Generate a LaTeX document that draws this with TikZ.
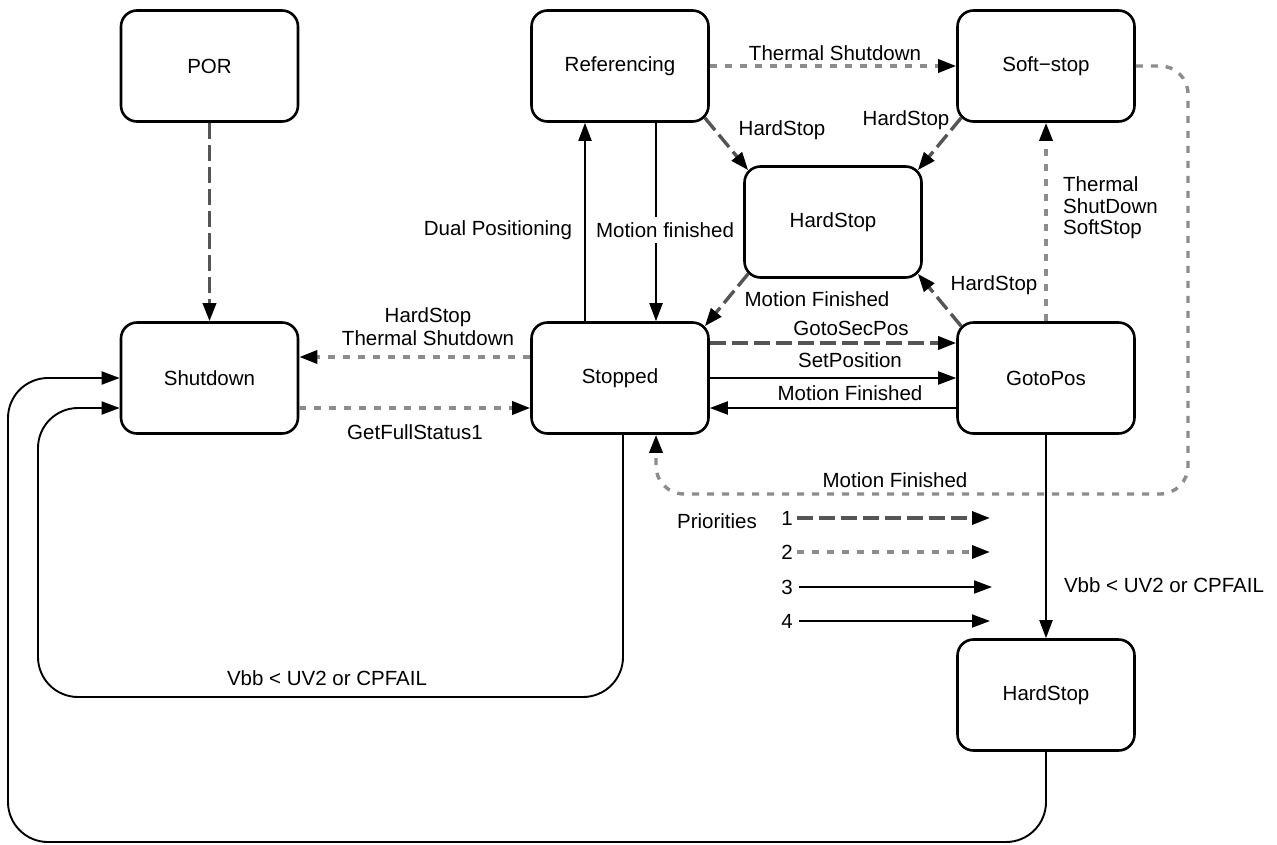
\documentclass[tikz,border=0pt]{standalone}
\usepackage{fontspec}
\setmainfont{Liberation Sans}
\usetikzlibrary{arrows.meta,calc}
\definecolor{ponec}{HTML}{555555}
\definecolor{ptwoc}{HTML}{8C8C8C}
\begin{document}
\begin{tikzpicture}[x=1pt,y=-1pt,
  font=\fontsize{20.5}{22}\selectfont,
  state/.style={draw, line width=2.6pt, rounded corners=16pt, minimum width=177pt, minimum height=111pt, inner sep=0pt},
  tipk/.style={-{Triangle[length=18pt,width=13pt,color=black]}},
  pone/.style={line width=3.4pt, color=ponec, dash pattern=on 16pt off 6pt, tipk},
  ptwo/.style={line width=3.4pt, color=ptwoc, dash pattern=on 7pt off 8pt, tipk},
  pthree/.style={line width=1.9pt, black, tipk},
  lab/.style={inner sep=1pt}]
\useasboundingbox (0,0) rectangle (1277,844);

% states
\node[state] (por)  at (209.5,66) {POR};
\node[state] (ref)  at (620,66) {Referencing};
\node[state] (soft) at (1046,66) {Soft−stop};
\node[state] (hsm)  at (833,222) {HardStop};
\node[state] (shut) at (209.5,378) {Shutdown};
\node[state] (stop) at (620,378) {Stopped};
\node[state] (goto) at (1046,378) {GotoPos};
\node[state] (hsb)  at (1046,695) {HardStop};

% priority 1 (dashed)
\draw[pone] (por) -- (shut);
\draw[pone] ($(ref.south east)+(-5,-5)$) -- ($(hsm.north west)+(5,5)$);
\draw[pone] ($(soft.south west)+(5,-5)$) -- ($(hsm.north east)+(-5,5)$);
\draw[pone] ($(hsm.south west)+(5,-5)$) -- ($(stop.north east)+(-5,5)$);
\draw[pone] ($(goto.north west)+(5,5)$) -- ($(hsm.south east)+(-5,-5)$);
\draw[pone] ($(stop.east)+(0,-35)$) -- ($(goto.west)+(0,-35)$);

% priority 2 (dotted)
\draw[ptwo] (ref) -- (soft);
\draw[ptwo, rounded corners=28pt] (soft.east) -- (1188,66) -- (1188,494) -- (656,494) -- ($(stop.south)+(36,0)$);
\draw[ptwo] (goto) -- (soft);
\draw[ptwo] ($(stop.west)+(0,-21)$) -- ($(shut.east)+(0,-21)$);
\draw[ptwo] ($(shut.east)+(0,30)$) -- ($(stop.west)+(0,30)$);

% priority 3/4 (solid)
\draw[pthree] (stop) -- (goto);
\draw[pthree] ($(goto.west)+(0,30)$) -- ($(stop.east)+(0,30)$);
\draw[pthree] ($(stop.north)+(-35,0)$) -- ($(ref.south)+(-35,0)$);
\draw[pthree] ($(ref.south)+(36,0)$) -- ($(stop.north)+(36,0)$);
\draw[pthree] (goto) -- (hsb);
\draw[pthree, rounded corners=40pt] ($(stop.south)+(3,0)$) -- (623,697) -- (38,697) -- (38,408) -- ($(shut.west)+(0,30)$);
\draw[pthree, rounded corners=40pt] (hsb.south) -- (1046,842) -- (8,842) -- (8,378) -- (shut.west);

% labels
\node[lab] (lbA) at (835,53) {Thermal Shutdown};
\node[lab] (lbB) at (782,130) {HardStop};
\node[lab] (lbC) at (906,120) {HardStop};
\node[lab] (lbD) at (817,299) {Motion Finished};
\node[lab] (lbE) at (994,285) {HardStop};
\node[lab, anchor=west, align=left, font=\fontsize{20.5}{21.5}\selectfont] (lbF) at (1062,208) {Thermal\\ShutDown\\SoftStop};
\node[lab] (lbG) at (498,230) {Dual Positioning};
\node[fill=white, inner xsep=2pt, inner ysep=5pt] (lbH) at (665,230) {Motion finished};
\node[lab, align=center, font=\fontsize{20.5}{23}\selectfont] (lbI) at (428,327) {HardStop\\Thermal Shutdown};
\node[lab] (lbJ) at (415,432) {GetFullStatus1};
\node[lab] (lbK) at (851,328) {GotoSecPos};
\node[lab] (lbL) at (850,360) {SetPosition};
\node[lab] (lbM) at (850,393) {Motion Finished};
\node[lab] (lbN) at (895,480) {Motion Finished};
\node[lab] (lbO) at (1164,585) {Vbb < UV2 or CPFAIL};
\node[lab] (lbP) at (327,678) {Vbb < UV2 or CPFAIL};

% legend
\node[lab] (prio) at (717,521) {Priorities};
\node[inner xsep=4pt, inner ysep=1pt] (k1) at (787,518) {1};
\node[inner xsep=4pt, inner ysep=1pt] (k2) at (787,552) {2};
\node[inner xsep=6pt, inner ysep=1pt] (k3) at (787,587) {3};
\node[inner xsep=6pt, inner ysep=1pt] (k4) at (787,621) {4};
\coordinate (e1) at (990,518);
\coordinate (e2) at (990,552);
\coordinate (e3) at (992,587);
\coordinate (e4) at (990,621);
\draw[pone] (k1) -- (e1);
\draw[ptwo] (k2) -- (e2);
\draw[pthree] (k3) -- (e3);
\draw[pthree] (k4) -- (e4);
\end{tikzpicture}
\end{document}
